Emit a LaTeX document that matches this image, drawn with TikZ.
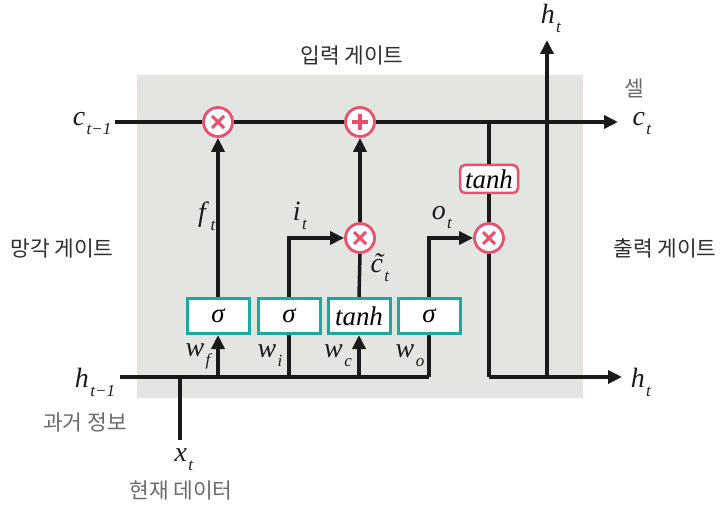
\documentclass[tikz,border=0pt]{standalone}
\usepackage{fontspec}
\setmainfont{Liberation Serif}
\newfontfamily\kr{Noto Sans CJK KR}
\usetikzlibrary{arrows.meta}
\definecolor{bgc}{HTML}{E2E5E0}
\definecolor{pk}{HTML}{E8506E}
\definecolor{tl}{HTML}{1BA89E}
\definecolor{dk}{HTML}{1A1A1A}
\definecolor{krd}{HTML}{2E2E2E}
\definecolor{krl}{HTML}{6A6A6A}
\newcommand{\vs}[2]{\textit{#1}\kern1.5bp\raisebox{-9bp}{\fontsize{17}{17}\selectfont\textit{#2}}}
\newcommand{\ctil}{\ooalign{\textit{c}\cr\hidewidth\kern3bp\textit{\char"02DC}\hidewidth\cr}}
\tikzset{
  ln/.style={draw=dk, line width=3.5bp},
  arr/.style={ln, -{Triangle[length=14bp,width=13bp]}},
  mul/.style={circle, draw=pk, fill=white, line width=2.8bp, minimum size=29bp, inner sep=0pt,
    path picture={\draw[pk, line width=3bp] (path picture bounding box.center) +(-6,-6) -- +(6,6) +(-6,6) -- +(6,-6);}},
  add/.style={circle, draw=pk, fill=white, line width=2.8bp, minimum size=29bp, inner sep=0pt,
    path picture={\draw[pk, line width=3.5bp] (path picture bounding box.center) +(-8,0) -- +(8,0) +(0,-8) -- +(0,8);}},
  sbox/.style={draw=tl, fill=white, line width=3bp, minimum width=62bp, minimum height=35bp, inner sep=0pt, font=\fontsize{27}{29}\selectfont\itshape},
  tbox/.style={draw=pk, fill=white, line width=2.5bp, rounded corners=5bp, minimum width=58bp, minimum height=28bp, inner sep=0pt, font=\fontsize{27}{29}\selectfont\itshape},
  mth/.style={font=\fontsize{28}{30}\selectfont, text=dk, inner sep=0pt},
  krt/.style={font=\kr\fontsize{21.5}{23}\selectfont, text=krd, inner sep=0pt},
  krg/.style={font=\kr\fontsize{21.5}{23}\selectfont, text=krl, inner sep=0pt},
}
\begin{document}
\begin{tikzpicture}[x=1bp, y=-1bp]
\useasboundingbox (0,0) rectangle (728,507);
\fill[bgc] (137,75) rectangle (583,398);

% operator nodes
\node[mul] (fx) at (218,122) {};
\node[add] (ad) at (360,122) {};
\node[mul] (ix) at (360,238) {};
\node[mul] (ox) at (489,238) {};
\node[tbox] (th) at (489,179) {tanh};

\node[sbox] (sf) at (218,316) {σ};
\node[sbox] (si) at (289,316) {σ};
\node[sbox] (sc) at (359,316) {tanh};
\node[sbox] (so) at (429,316) {σ};

% coordinates
\coordinate (cin) at (115,122);
\coordinate (cout) at (618,122);
\coordinate (cs) at (489,122);
\coordinate (hin) at (120,377);
\coordinate (hend) at (429,377);
\coordinate (hf) at (218,377);
\coordinate (hi) at (289,377);
\coordinate (hc) at (359,377);
\coordinate (xb) at (180,377);
\coordinate (xt) at (180,440);
\coordinate (hr) at (489,377);
\coordinate (hu) at (547,377);
\coordinate (hout) at (622,377);
\coordinate (htop) at (547,40);

% cell line
\draw[ln] (cin) -- (fx.west);
\draw[ln] (fx.east) -- (ad.west);
\draw[arr] (ad.east) -- (cout);
\draw[ln] (cs) -- (th.north);
\draw[ln] (th.south) -- (ox.north);
\draw[ln] (ox.south) -- (hr);
\draw[arr] (hr) -- (hout);
\draw[arr] (hu) -- (htop);

% input line
\draw[ln] (hin) -- (hend);
\draw[ln] (hend) -- (so.south);
\draw[arr] (hf) -- (sf.south);
\draw[ln] (hi) -- (si.south);
\draw[arr] (hc) -- (sc.south);
\draw[ln] (xt) -- (xb);

% gates
\draw[arr] (sf.north) -- (fx.south);
\draw[arr] (si.north) |- (ix.west);
\draw[ln] (sc.north) -- (ix.south);
\draw[arr] (ix.north) -- (ad.south);
\draw[arr] (so.north) |- (ox.west);

% labels
\node[krt] (lin) at (352,55) {입력 게이트};
\node[krg] (lcell) at (634,88) {셀};
\node[mth] (lc1) at (92,124) {\vs{c}{t−1}};
\node[mth] (lct) at (642,124) {\vs{c}{t}};
\node[mth] (lht) at (551,18) {\vs{h}{t}};
\node[mth] (lf) at (207,216) {\vs{f}{t}};
\node[mth] (li) at (300,216) {\vs{i}{t}};
\node[mth] (lo) at (442,218) {\vs{o}{t}};
\node[mth] (lcc) at (380,271) {\vs{\ctil}{t}};
\node[krt] (lfg) at (62,248) {망각 게이트};
\node[krt] (log) at (665,248) {출력 게이트};
\node[mth] (lwf) at (199,356) {\vs{w}{f}};
\node[mth] (lwi) at (270,356) {\vs{w}{i}};
\node[mth] (lwc) at (338,356) {\vs{w}{c}};
\node[mth] (lwo) at (410,356) {\vs{w}{o}};
\node[mth] (lh1) at (95,382) {\vs{h}{t−1}};
\node[mth] (lh2) at (641,382) {\vs{h}{t}};
\node[krg] (lpast) at (85,422) {과거 정보};
\node[mth] (lx) at (184,460) {\vs{x}{t}};
\node[krg] (lnow) at (181,490) {현재 데이터};
\end{tikzpicture}
\end{document}
